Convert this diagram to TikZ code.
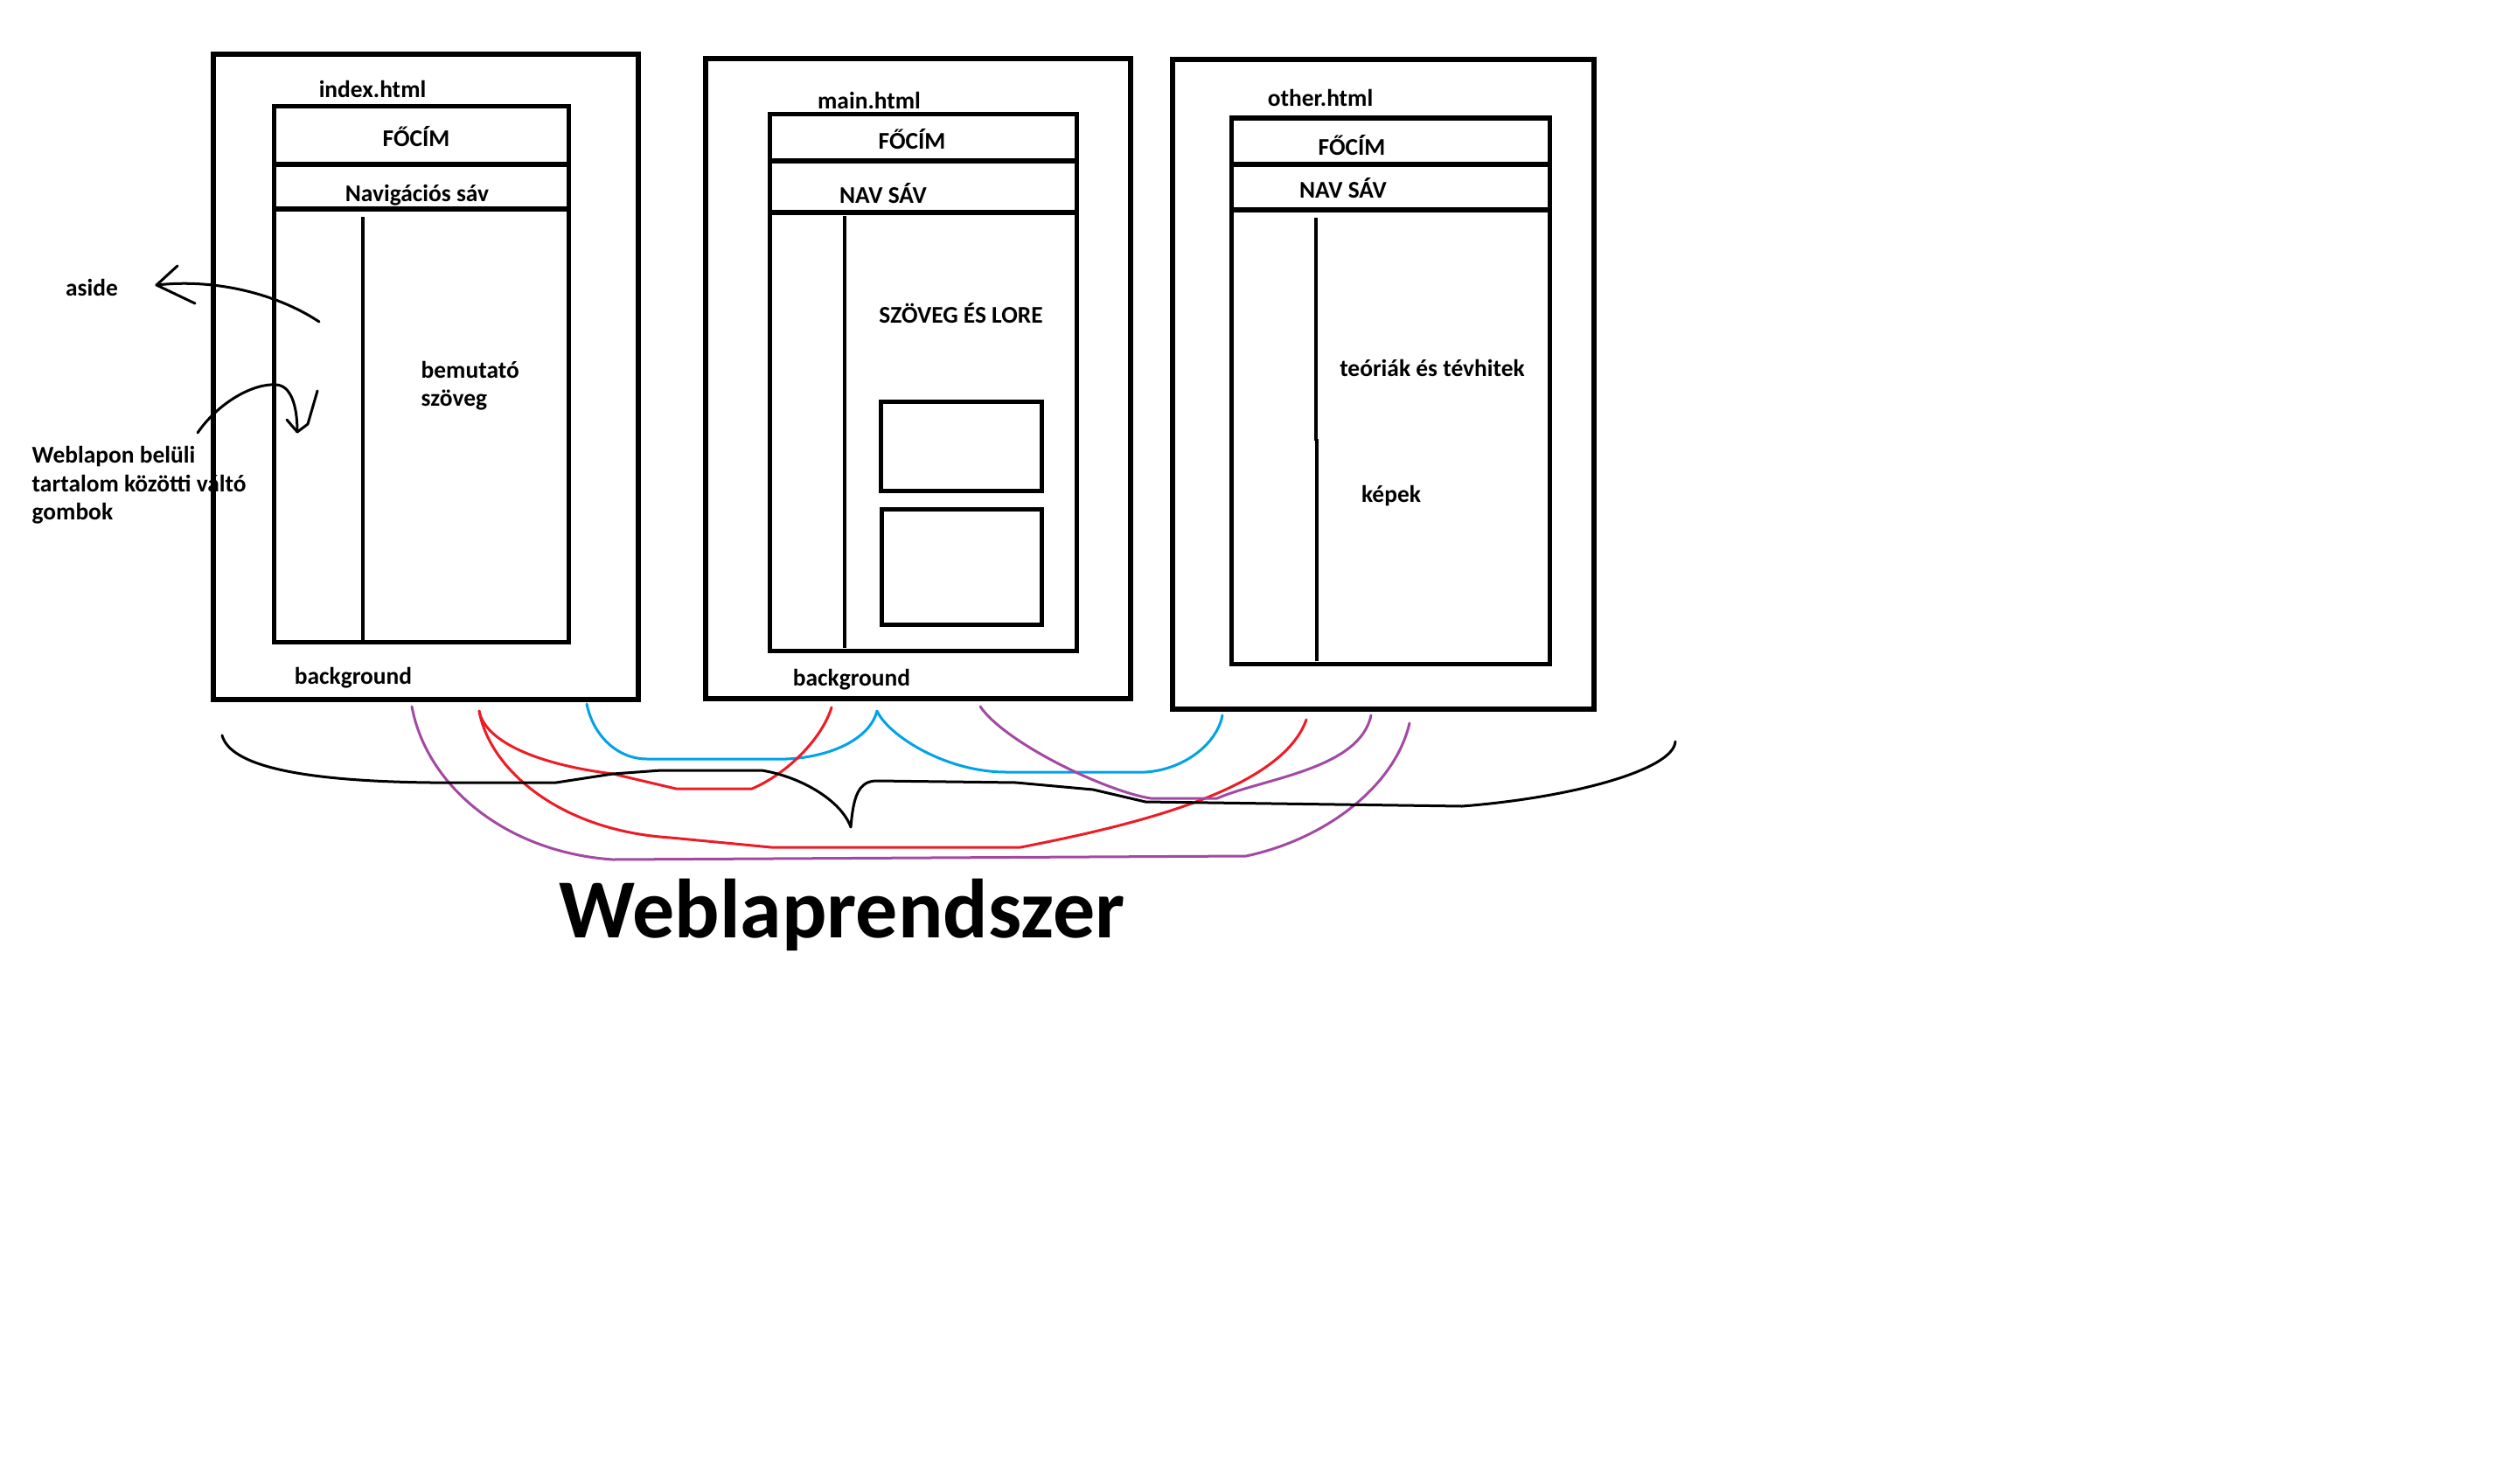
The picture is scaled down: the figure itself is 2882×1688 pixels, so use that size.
\documentclass[tikz,border=0pt]{standalone}
\usepackage{fontspec}
\setmainfont{Carlito}
\definecolor{paintblue}{RGB}{0,162,232}
\definecolor{paintred}{RGB}{237,28,36}
\definecolor{paintpurple}{RGB}{163,73,164}
\tikzset{
    lbl/.style={font=\bfseries\fontsize{7.8}{9.2}\selectfont, inner sep=0pt},
    page/.style={line width=0.06cm},
    frame/.style={line width=0.05cm},
    sidebar/.style={line width=0.04cm},
    wire/.style={line width=0.03cm, line cap=round, line join=round}
}
\begin{document}
\begin{tikzpicture}[x=0.01cm, y=-0.01cm]
        \useasboundingbox (0,0) rectangle (2882,1688); % whole canvas
        % index.html
        \draw[page] (244,62) rectangle (730,800);
        \draw[frame] (313,122) rectangle (650,734);
        \draw[frame] (313,188) -- (650,188);
        \draw[frame] (313,239) -- (650,239);
        \draw[sidebar] (415,248) -- (415,737);
        \node[lbl] (indextitle) at (426,102) {index.html};
        \node[lbl] (indexhead) at (476,156) {FŐCÍM};
        \node[lbl] (indexnav) at (477,223) {Navigációs sáv};
        \node[lbl, align=left, anchor=west] (intro) at (481,441) {bemutató\\szöveg};
        \node[lbl] (indexbg) at (404,775) {background};
        \node[lbl] (aside) at (105,329) {aside};
        \node[lbl, align=left, anchor=west] (buttons) at (36,555) {Weblapon belüli\\tartalom közötti váltó\\gombok};
        \coordinate (asidecol) at (365,368);
        \coordinate (asidetip) at (179,326);
        \draw[wire] (asidecol) .. controls (320,338) and (250,318) .. (asidetip);
        \draw[wire] (asidetip) ++(24,-22) -- (asidetip) -- ++(44,21);
        \coordinate (btnstart) at (226,495);
        \coordinate (btntip) at (340,494);
        \draw[wire] (btnstart) .. controls (250,460) and (290,438) .. (316,440) .. controls (332,441) and (340,462) .. (btntip);
        \draw[wire] (btntip) ++(-12,-14) -- (btntip) -- ++(12,-9) -- ++(11,-38);
        % main.html
        \draw[page] (807,67) rectangle (1293,799);
        \draw[frame] (880,131) rectangle (1231,744);
        \draw[frame] (880,184) -- (1231,184);
        \draw[frame] (880,243) -- (1231,243);
        \draw[sidebar] (966,247) -- (966,741);
        \draw[frame] (1007,459) rectangle (1191,561);
        \draw[frame] (1008,582) rectangle (1191,714);
        \node[lbl] (maintitle) at (994,115) {main.html};
        \node[lbl] (mainhead) at (1043,159) {FŐCÍM};
        \node[lbl] (mainnav) at (1010,221) {NAV SÁV};
        \node[lbl] (mainlore) at (1099,358) {SZÖVEG ÉS LORE};
        \node[lbl] (mainbg) at (974,777) {background};
        % other.html
        \draw[page] (1341,68) rectangle (1823,811);
        \draw[frame] (1408,135) rectangle (1772,759);
        \draw[frame] (1408,188) -- (1772,188);
        \draw[frame] (1408,240) -- (1772,240);
        \draw[sidebar] (1505,249) -- (1505,504);
        \draw[sidebar] (1506,502) -- (1506,756);
        \node[lbl] (othertitle) at (1510,112) {other.html};
        \node[lbl] (otherhead) at (1546,166) {FŐCÍM};
        \node[lbl] (othernav) at (1536,215) {NAV SÁV};
        \node[lbl] (otherlore) at (1638,421) {teóriák és tévhitek};
        \node[lbl] (otherimg) at (1591,567) {képek};
        % links between the pages
        \coordinate (blueA) at (671,805);
        \coordinate (blueB) at (1003,813);
        \coordinate (blueC) at (1398,818);
        \coordinate (redA) at (548,813);
        \coordinate (redB) at (951,809);
        \coordinate (redC) at (1494,823);
        \coordinate (purpleA) at (471,808);
        \coordinate (purpleB) at (1612,827);
        \coordinate (purpleC) at (1121,808);
        \coordinate (purpleD) at (1568,818);
        \draw[wire, paintblue] (blueA) .. controls (678,840) and (705,868) .. (740,868) -- (899,868)
            .. controls (950,866) and (995,845) .. (blueB)
            .. controls (1015,840) and (1080,883) .. (1151,883) -- (1310,883)
            .. controls (1355,880) and (1392,850) .. (blueC);
        \draw[wire, paintred] (redA) .. controls (555,850) and (620,875) .. (701,885) -- (773,902) -- (860,902)
            .. controls (900,885) and (940,845) .. (redB);
        \draw[wire, paintred] (redA) .. controls (560,880) and (640,950) .. (767,958) -- (882,969) -- (1167,969)
            .. controls (1290,945) and (1465,905) .. (redC);
        \draw[wire, paintpurple] (purpleA) .. controls (488,900) and (580,975) .. (701,983) -- (1425,979)
            .. controls (1515,960) and (1595,900) .. (purpleB);
        \draw[wire, paintpurple] (purpleC) .. controls (1150,850) and (1265,905) .. (1316,913) -- (1392,913)
            .. controls (1445,890) and (1555,880) .. (purpleD);
        % brace
        \coordinate (braceL) at (254,841);
        \coordinate (braceM) at (973,946);
        \coordinate (braceR) at (1916,848);
        \draw[wire] (braceL) .. controls (262,870) and (320,893) .. (493,895) -- (636,895) -- (701,885) -- (756,881) -- (871,881)
            .. controls (915,888) and (962,915) .. (braceM)
            .. controls (976,910) and (982,893) .. (1003,893) -- (1162,895) -- (1250,903) -- (1310,917) -- (1672,922)
            .. controls (1800,912) and (1914,880) .. (braceR);
        \node[font=\bfseries\fontsize{27.3}{32}\selectfont, inner sep=0pt, anchor=base] (system) at (963,1072) {Weblaprendszer};
    \end{tikzpicture}
\end{document}
